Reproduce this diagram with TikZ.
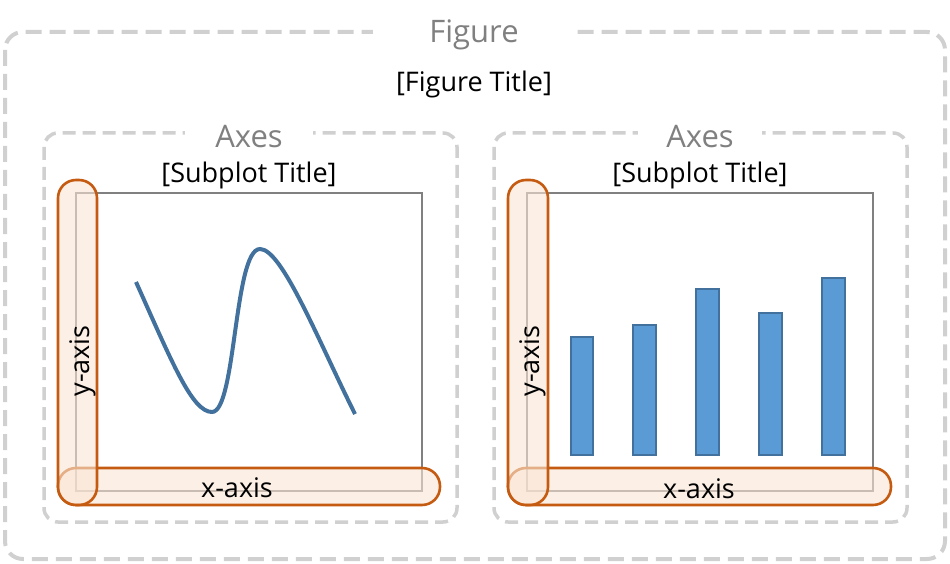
\documentclass[tikz,border=0pt]{standalone}
\usepackage{fontspec}
\setmainfont{Open Sans}
\begin{document}
\begin{tikzpicture}[x=1pt,y=-1pt,
  frame/.style={draw={rgb,255:red,208;green,208;blue,208},line width=4pt,dash pattern=on 16pt off 8pt,rounded corners=18pt},
  axframe/.style={draw={rgb,255:red,208;green,208;blue,208},line width=3.5pt,dash pattern=on 13pt off 7pt,rounded corners=14pt},
  graylabel/.style={fill=white,text={rgb,255:red,128;green,128;blue,128},font=\fontsize{31}{34}\selectfont,inner sep=0pt,anchor=base},
  titletext/.style={font=\fontsize{27}{30}\selectfont,inner sep=0pt,anchor=base},
  plotbox/.style={draw={rgb,255:red,128;green,128;blue,128},line width=1.5pt},
  axisband/.style={draw={rgb,255:red,197;green,90;blue,17},line width=2.6pt,fill={rgb,255:red,250;green,230;blue,213},fill opacity=0.6,rounded corners=18pt},
  axislabel/.style={font=\fontsize{27}{30}\selectfont,inner sep=0pt,anchor=base},
  curveline/.style={draw={rgb,255:red,65;green,113;blue,156},line width=4pt},
  bar/.style={draw={rgb,255:red,65;green,113;blue,156},line width=1.8pt,fill={rgb,255:red,91;green,155;blue,213}}
]
\useasboundingbox (0,0) rectangle (950,564);
% outer figure frame
\draw[frame] (5,32) rectangle (945,559);
\node[graylabel,minimum width=202pt] (fig) at (474,43) {Figure};
\node[titletext] (figtitle) at (474,92) {[Figure Title]};
% axes frames
\draw[axframe] (44,133) rectangle (457,522);
\draw[axframe] (494,133) rectangle (907,522);
\node[graylabel,minimum width=128pt] (axl) at (249,148) {Axes};
\node[graylabel,minimum width=124pt] (axr) at (700,148) {Axes};
\node[titletext] (stl) at (249,183) {[Subplot Title]};
\node[titletext] (str) at (700,183) {[Subplot Title]};
% plot boxes
\draw[plotbox] (76,193) rectangle (422,491);
\draw[plotbox] (527,193) rectangle (873,491);
% curve
\draw[curveline] (136,282) .. controls (172,362) and (192,412) .. (212,412)
  .. controls (236,412) and (234,249) .. (260,249)
  .. controls (282,249) and (318,340) .. (355,414);
% bars
\draw[bar] (571,455) rectangle (593,337);
\draw[bar] (633,455) rectangle (656,325);
\draw[bar] (696,455) rectangle (719,289);
\draw[bar] (759,455) rectangle (782,313);
\draw[bar] (822,455) rectangle (845,278);
% axis bands left
\draw[axisband] (58,468) rectangle (440,505);
\draw[axisband] (58,180) rectangle (97,505);
\node[axislabel] (xl) at (237,497) {x-axis};
\node[axislabel,rotate=90] (yl) at (89,361) {y-axis};
% axis bands right
\draw[axisband] (508,468) rectangle (891,505);
\draw[axisband] (508,180) rectangle (548,505);
\node[axislabel] (xr) at (699,498) {x-axis};
\node[axislabel,rotate=90] (yr) at (539,361) {y-axis};
\end{tikzpicture}
\end{document}
